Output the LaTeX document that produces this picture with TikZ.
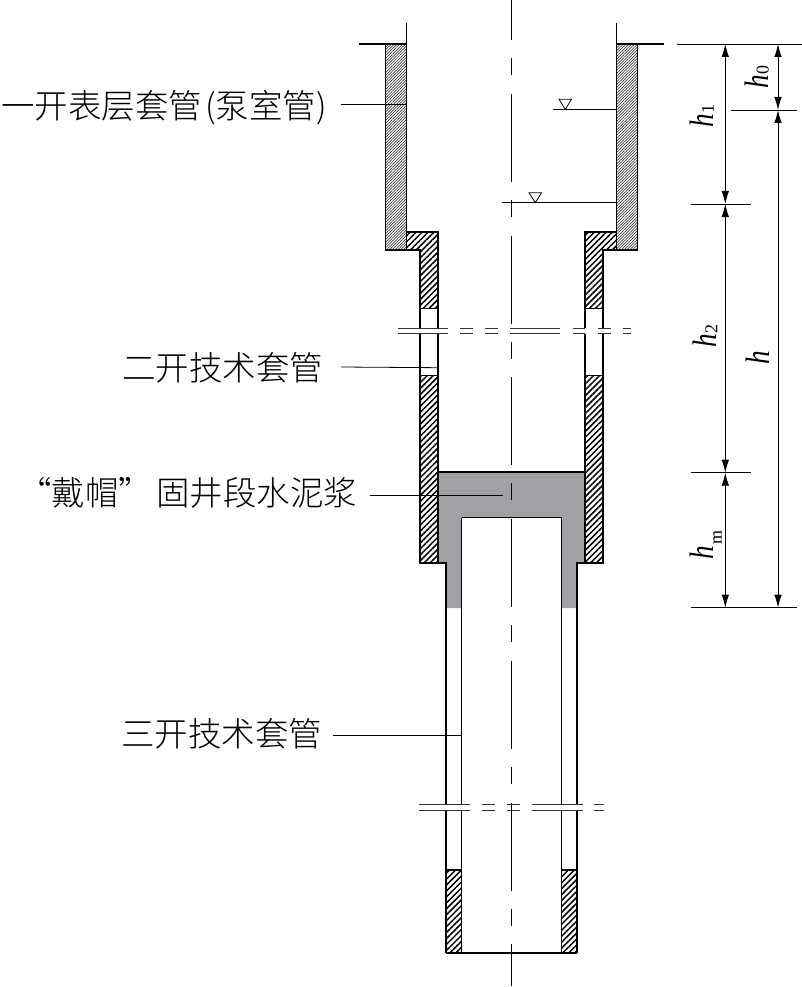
\documentclass[tikz,border=0pt]{standalone}
\usepackage{fontspec}
\setmainfont{Liberation Serif}
\newfontfamily\cjk{Noto Sans CJK SC Light}
\usetikzlibrary{arrows.meta,patterns.meta}
\definecolor{cement}{HTML}{A0A1A5}
\tikzset{
	wall/.style={line width=1.9pt},
	leader/.style={line width=.8pt},
	extline/.style={line width=.9pt},
	dimline/.style={line width=.9pt,{Latex[length=13pt,width=7.5pt]}-{Latex[length=13pt,width=7.5pt]}},
	dimlabel/.style={rotate=90,inner sep=0pt,font=\fontsize{34}{34}\selectfont\itshape},
	cnlabel/.style={inner sep=0pt,font=\cjk\fontsize{33.5}{33.5}\selectfont},
	lighthatch/.style={pattern={Lines[angle=45,distance=2pt,line width=.7pt]},pattern color=black!75},
	darkhatch/.style={pattern={Lines[angle=45,distance=4.2pt,line width=1.5pt]},pattern color=black},
	breakline/.style={line width=1pt,black!80},
}
\newcommand{\hsym}{\scalebox{.8}[1]{h}}
\newcommand{\hsub}[2]{\hsym\kern1pt\raisebox{#1}{\upshape\fontsize{18}{18}\selectfont #2}}
\begin{document}
\begin{tikzpicture}[x=1pt,y=-1pt]
	\useasboundingbox (0,0) rectangle (802,987);
	% cement
	\fill[cement] (438,472) -- (585,472) -- (585,563) -- (577,563) -- (577,608) -- (561.5,608) -- (561.5,517.5) -- (461.5,517.5) -- (461.5,608) -- (445.5,608) -- (445.5,563) -- (438,563) -- cycle;
	% both halves of the well
	\foreach \m in {1,-1} {
	\begin{scope}[xshift=511.5pt,xscale=\m]
		\fill[lighthatch] (-126,44) rectangle (-105,250);
		\fill[darkhatch] (-105,232) -- (-73.5,232) -- (-73.5,308.5) -- (-91.5,308.5) -- (-91.5,250) -- (-105,250) -- cycle;
		\fill[darkhatch] (-91.5,375.5) rectangle (-73.5,563);
		\fill[darkhatch] (-65.5,870) rectangle (-50,953);
		\draw[wall] (-152.5,44) -- (-105,44);
		\draw[wall] (-105,23) -- (-105,250);
		\draw[wall] (-126,44) -- (-126,250) -- (-91.5,250) -- (-91.5,328);
		\draw[wall] (-105,232) -- (-73.5,232) -- (-73.5,328);
		\draw[wall] (-91.5,334) -- (-91.5,563) -- (-65.5,563) -- (-65.5,804);
		\draw[wall] (-73.5,334) -- (-73.5,563);
		\draw[wall] (-91.5,308.5) -- (-73.5,308.5);
		\draw[wall] (-91.5,375.5) -- (-73.5,375.5);
		\draw[wall] (-50,517.5) -- (-50,804);
		\draw[wall] (-65.5,811) -- (-65.5,953);
		\draw[wall] (-50,811) -- (-50,953);
		\draw[wall] (-65.5,870) -- (-50,870);
	\end{scope}
	}
	\draw[wall] (438,472.3) -- (585,472.3);
	\draw[wall] (461.5,517.5) -- (561.5,517.5);
	\draw[wall] (446,953.3) -- (577,953.3);
	% centre line
	\draw[line width=.9pt,dash pattern=on 88pt off 18pt on 17pt off 18.7pt,dash phase=47.7pt] (511.3,0) -- (511.3,986);
	% break lines
	\foreach \a/\b in {397.5/447.5,460/472.5,484.5/498,510/560,572.5/585,597.5/610.5,622.5/630.5} {
		\draw[breakline] (\a,328.3) -- (\b,328.3);
		\draw[breakline] (\a,333.3) -- (\b,333.3);
	}
	\foreach \a/\b in {419/470,481.5/494.5,506.5/520,531.5/582.5,594/603.5} {
		\draw[breakline] (\a,804.7) -- (\b,804.7);
		\draw[breakline] (\a,810) -- (\b,810);
	}
	% water levels
	\coordinate (W1a) at (553,109.3);
	\coordinate (W1b) at (616,109.3);
	\coordinate (W2a) at (502,202.7);
	\coordinate (W2b) at (616,202.7);
	\draw[leader] (W1a) -- (W1b);
	\draw[leader] (W2a) -- (W2b);
	\draw[leader] (559,99.3) -- (571.5,99.3) -- (565.3,109.3) -- cycle;
	\draw[leader] (529,192.7) -- (541.5,192.7) -- (535.3,202.7) -- cycle;
	% labels
	\node[cnlabel,anchor=west] (CS1) at (1,108) {一开表层套管\kern3pt(泵室管)};
	\node[cnlabel,anchor=west] (CS2) at (122,368) {二开技术套管};
	\node[cnlabel,anchor=west] (CEM) at (18,493) {“戴帽”\kern4pt固井段水泥浆};
	\node[cnlabel,anchor=west] (CS3) at (121,734) {三开技术套管};
	\coordinate (CS1a) at (341,104.3);
	\coordinate (CS1b) at (406,104.3);
	\coordinate (CS2a) at (341,367);
	\coordinate (CS2b) at (438,367.7);
	\coordinate (CEMa) at (370,495);
	\coordinate (CEMb) at (503,495);
	\coordinate (CS3a) at (333,735);
	\coordinate (CS3b) at (461,735);
	\draw[leader] (CS1a) -- (CS1b);
	\draw[leader] (CS2a) -- (CS2b);
	\draw[leader] (CEMa) -- (CEMb);
	\draw[leader] (CS3a) -- (CS3b);
	% dimensions
	\coordinate (T1) at (725.3,44);
	\coordinate (T2) at (778,44);
	\coordinate (H0) at (778,110);
	\coordinate (H1) at (725.3,204);
	\coordinate (H2) at (725.3,472.7);
	\coordinate (B1) at (725.3,607.7);
	\coordinate (B2) at (778,607.7);
	\draw[extline] (677,44) -- (801.5,44);
	\draw[extline] (731,110) -- (797,110);
	\draw[extline] (690.5,204) -- (750.5,204);
	\draw[extline] (690.5,472.7) -- (750.5,472.7);
	\draw[extline] (690.5,607.7) -- (797,607.7);
	\draw[dimline] (T2) -- (H0);
	\draw[dimline] (H0) -- (B2);
	\draw[dimline] (T1) -- (H1);
	\draw[dimline] (H1) -- (H2);
	\draw[dimline] (H2) -- (B1);
	\node[dimlabel] (Lh0) at (757,77) {\hsub{0pt}{0}};
	\node[dimlabel] (Lh1) at (702,116) {\hsub{0pt}{1}};
	\node[dimlabel] (Lh2) at (705,336) {\hsub{-1pt}{2}};
	\node[dimlabel] (Lhm) at (706,545) {\hsub{-8pt}{m}};
	\node[dimlabel] (Lh) at (757.5,358) {\hsym};
\end{tikzpicture}
\end{document}
